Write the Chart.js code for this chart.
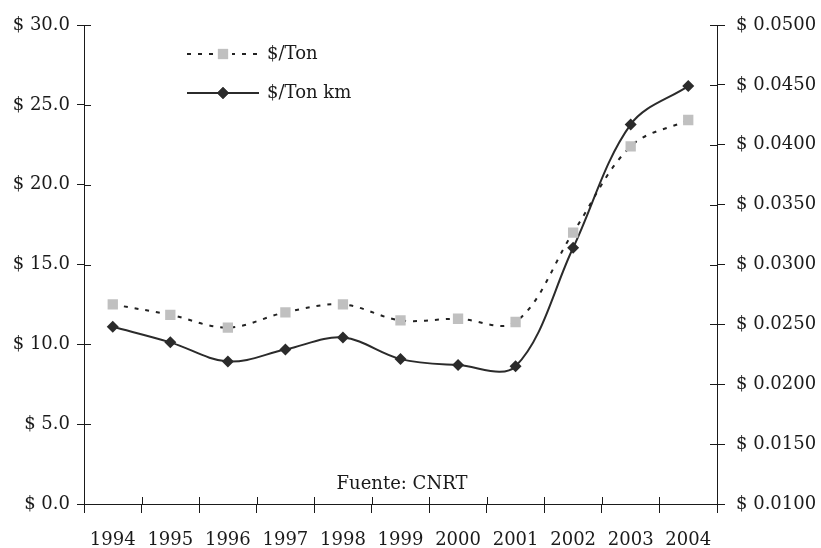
<!DOCTYPE html>
<html>
<head>
<meta charset="utf-8">
<script src="https://cdn.jsdelivr.net/npm/chart.js@4/dist/chart.umd.min.js"></script>
<style>
  html, body { margin: 0; padding: 0; background: #fff; }
  #wrap { width: 821px; height: 548px; position: relative; }
</style>
</head>
<body>
<div id="wrap"><canvas id="c" width="821" height="548"></canvas></div>
<script>
// Years on the category axis
const years = ['1994', '1995', '1996', '1997', '1998', '1999', '2000', '2001', '2002', '2003', '2004'];
// Freight rate per ton (left axis)
const perTon = [12.5, 11.85, 11.05, 12.0, 12.5, 11.5, 11.6, 11.4, 17.0, 22.4, 24.05];
// Freight rate per ton-km (right axis)
const perTonKm = [0.0248, 0.0235, 0.0219, 0.0229, 0.0239, 0.0221, 0.0216, 0.0215, 0.0314, 0.0417, 0.0449];
// Series names
const seriesNames = ['$/Ton', '$/Ton km'];
const sourceNote = 'Fuente: CNRT';

const FONT = "'DejaVu Serif', 'Liberation Serif', serif";
const INK = '#1a1a1a';

// Short inward half of each tick mark (Chart.js draws the outward half)
const innerTicks = {
  id: 'innerTicks',
  afterDraw(chart) {
    const { ctx, chartArea: a, scales } = chart;
    const len = 7;
    ctx.save();
    ctx.strokeStyle = INK;
    ctx.lineWidth = 1;
    ctx.beginPath();
    scales.y.ticks.forEach((t, i) => {
      const y = Math.round(scales.y.getPixelForTick(i)) + 0.5;
      ctx.moveTo(a.left, y); ctx.lineTo(a.left + len, y);
    });
    scales.y1.ticks.forEach((t, i) => {
      const y = Math.round(scales.y1.getPixelForTick(i)) + 0.5;
      ctx.moveTo(a.right - len, y); ctx.lineTo(a.right, y);
    });
    for (let i = 0; i <= years.length; i++) {
      const x = Math.round(scales.x.getPixelForValue(i - 0.5)) + 0.5;
      ctx.moveTo(x, a.bottom - len); ctx.lineTo(x, a.bottom);
    }
    ctx.stroke();
    ctx.restore();
  }
};

// Legend inside the plot area plus the source note
const insideLegend = {
  id: 'insideLegend',
  afterDraw(chart) {
    const { ctx, chartArea: a } = chart;
    ctx.save();
    const x0 = a.left + 103, x1 = a.left + 175, tx = a.left + 183;
    const rows = [a.top + 29, a.top + 68];
    chart.data.datasets.forEach((ds, i) => {
      const y = rows[i];
      ctx.strokeStyle = ds.borderColor;
      ctx.lineWidth = ds.borderWidth;
      ctx.setLineDash(ds.borderDash || []);
      ctx.beginPath();
      ctx.moveTo(x0, y); ctx.lineTo(x1, y);
      ctx.stroke();
      ctx.setLineDash([]);
      const cx = (x0 + x1) / 2;
      if (ds.pointStyle === 'rect') {
        ctx.fillStyle = '#fff';
        ctx.fillRect(cx - 9, y - 4, 18, 8);
      }
      Chart.helpers.drawPoint(ctx, {
        pointStyle: ds.pointStyle,
        radius: ds.pointRadius,
        borderWidth: 0,
        rotation: 0
      }, cx, y);
      ctx.fillStyle = ds.pointBackgroundColor;
      ctx.fill();
      ctx.fillStyle = INK;
      ctx.font = '18px ' + FONT;
      ctx.textBaseline = 'middle';
      ctx.textAlign = 'left';
      ctx.fillText(ds.label, tx, y);
    });
    ctx.font = '18px ' + FONT;
    ctx.textAlign = 'center';
    ctx.textBaseline = 'middle';
    ctx.fillStyle = INK;
    ctx.fillText(sourceNote, a.left + 318, a.bottom - 20);
    ctx.restore();
  }
};

new Chart(document.getElementById('c'), {
  type: 'line',
  data: {
    labels: years,
    datasets: [
      {
        label: seriesNames[0],
        data: perTon,
        yAxisID: 'y',
        borderColor: '#222',
        borderWidth: 2,
        borderDash: [4, 7],
        pointStyle: 'rect',
        pointRadius: 7.3,
        pointHoverRadius: 7.3,
        pointBackgroundColor: '#c0c0c0',
        pointBorderColor: '#c0c0c0',
        pointBorderWidth: 0,
        tension: 0.35,
        fill: false
      },
      {
        label: seriesNames[1],
        data: perTonKm,
        yAxisID: 'y1',
        borderColor: '#2b2b2b',
        borderWidth: 2,
        pointStyle: 'rectRot',
        pointRadius: 6,
        pointHoverRadius: 6,
        pointBackgroundColor: '#2b2b2b',
        pointBorderColor: '#2b2b2b',
        pointBorderWidth: 0,
        tension: 0.35,
        fill: false
      }
    ]
  },
  options: {
    responsive: false,
    animation: false,
    devicePixelRatio: 1,
    layout: { padding: { top: 25, left: 0, right: 0, bottom: 0 } },
    plugins: { legend: { display: false }, tooltip: { enabled: false } },
    scales: {
      x: {
        type: 'category',
        offset: true,
        grid: { display: true, offset: true, drawOnChartArea: false, drawTicks: true, tickLength: 9, color: INK, lineWidth: 1 },
        border: { display: true, color: INK, width: 1 },
        ticks: { color: INK, font: { family: FONT, size: 18 }, padding: 17, maxRotation: 0, autoSkip: false },
        afterFit(s) { s.height = 44; }
      },
      y: {
        position: 'left',
        min: 0, max: 30,
        grid: { display: true, drawOnChartArea: false, drawTicks: true, tickLength: 7, color: INK, lineWidth: 1 },
        border: { display: true, color: INK, width: 1 },
        ticks: {
          stepSize: 5, color: INK, font: { family: FONT, size: 18 }, padding: 7,
          callback: v => '$ ' + v.toFixed(1)
        },
        afterFit(s) { s.width = 84; }
      },
      y1: {
        position: 'right',
        min: 0.01, max: 0.05,
        grid: { display: true, drawOnChartArea: false, drawTicks: true, tickLength: 8, color: INK, lineWidth: 1 },
        border: { display: true, color: INK, width: 1 },
        ticks: {
          stepSize: 0.005, color: INK, font: { family: FONT, size: 18 }, padding: 11,
          callback: v => '$ ' + v.toFixed(4)
        },
        afterFit(s) { s.width = 104; }
      }
    }
  },
  plugins: [innerTicks, insideLegend]
});
</script>
</body>
</html>
